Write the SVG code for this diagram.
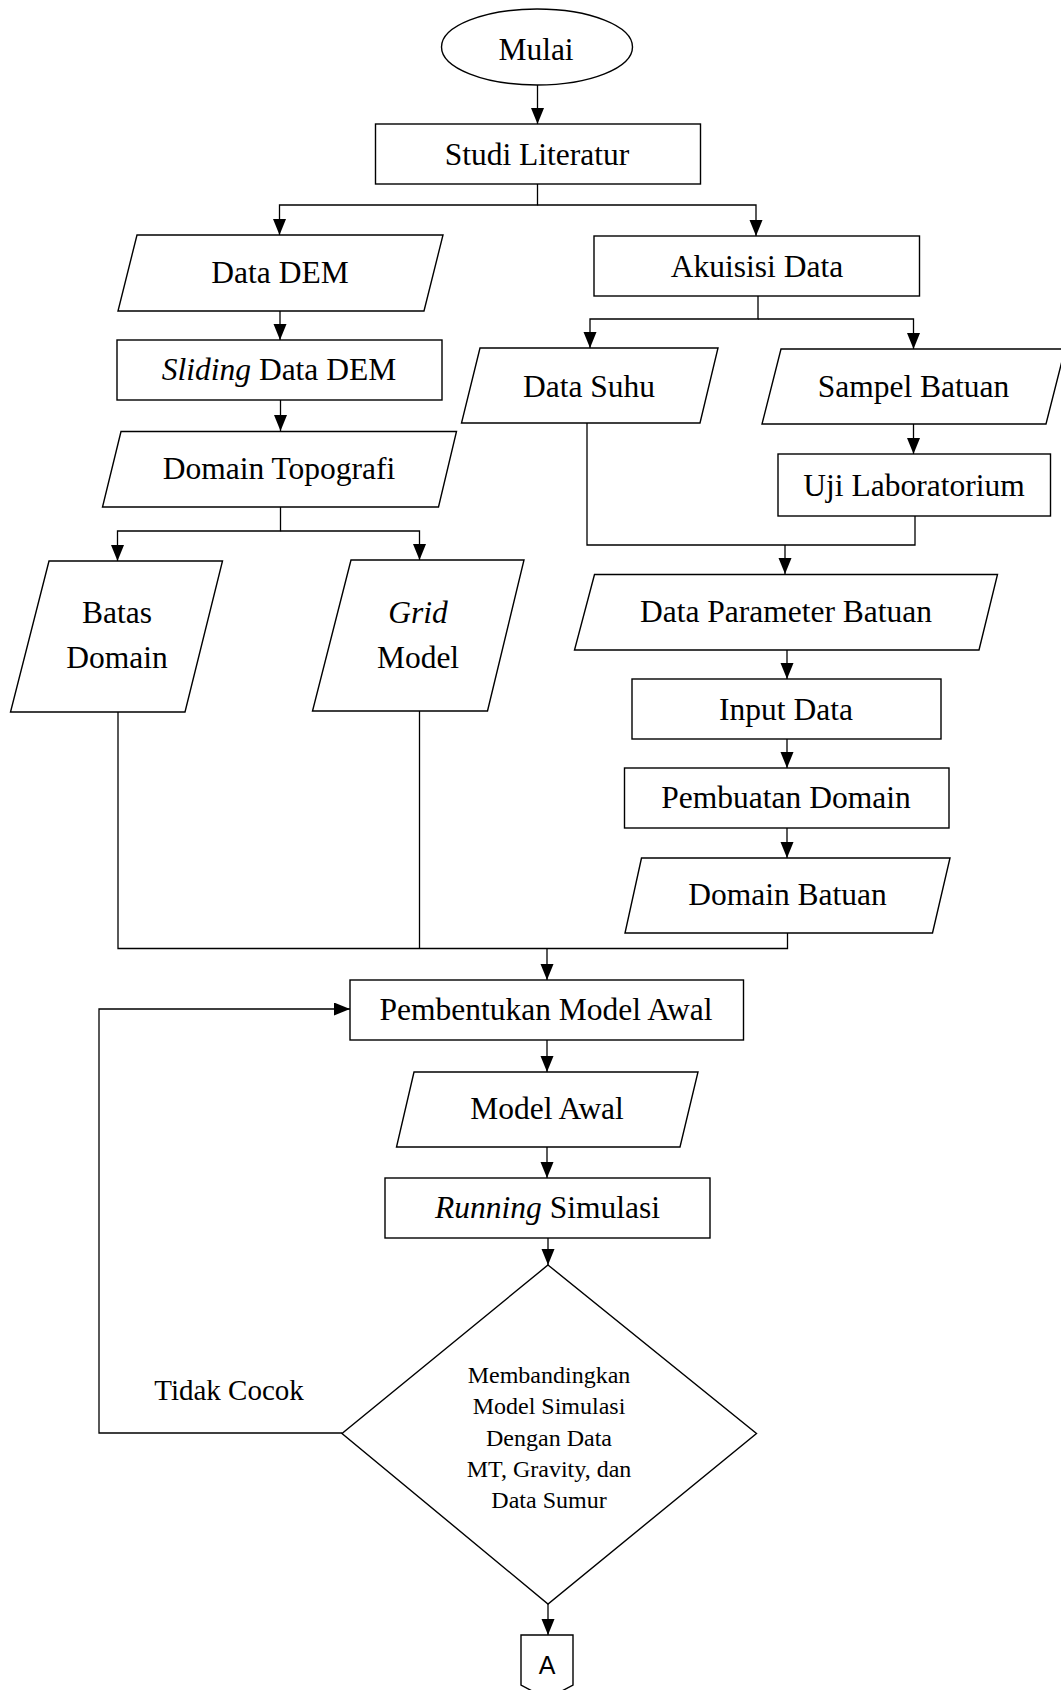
<svg xmlns="http://www.w3.org/2000/svg" width="1061" height="1690" viewBox="0 0 1061 1690">
<style>
.s{fill:#fff;stroke:#000;stroke-width:1.4}
.c{fill:none;stroke:#000;stroke-width:1.3}
.t{font-family:"Liberation Serif","Times New Roman",serif;font-size:31.5px;fill:#000;text-anchor:middle}
.i{font-style:italic}
.d{font-family:"Liberation Serif","Times New Roman",serif;font-size:24px;fill:#000;text-anchor:middle}
</style>
<defs>
<marker id="ah" markerUnits="userSpaceOnUse" markerWidth="16" markerHeight="14" refX="16" refY="6.5" orient="auto">
<path d="M0,0 L16,6.5 L0,13 z" fill="#000"/>
</marker>
</defs>
<rect width="1061" height="1690" fill="#fff"/>
<g id="connectors">
<path class="c" d="M537.5,85 V124" marker-end="url(#ah)"/>
<path class="c" d="M537.5,184 V205 H279.5 V235" marker-end="url(#ah)"/>
<path class="c" d="M537.5,205 H756 V236" marker-end="url(#ah)"/>
<path class="c" d="M280,311 V340" marker-end="url(#ah)"/>
<path class="c" d="M280.5,400 V431" marker-end="url(#ah)"/>
<path class="c" d="M280.5,507 V531 H117.5 V561" marker-end="url(#ah)"/>
<path class="c" d="M280.5,531 H419.5 V560" marker-end="url(#ah)"/>
<path class="c" d="M758,296 V319 H590 V348" marker-end="url(#ah)"/>
<path class="c" d="M758,319 H913.5 V349" marker-end="url(#ah)"/>
<path class="c" d="M913.5,424 V454" marker-end="url(#ah)"/>
<path class="c" d="M587,423 V545 H915 V516"/>
<path class="c" d="M785,545 V574" marker-end="url(#ah)"/>
<path class="c" d="M787,650 V679" marker-end="url(#ah)"/>
<path class="c" d="M787,739 V768" marker-end="url(#ah)"/>
<path class="c" d="M787,828 V858" marker-end="url(#ah)"/>
<path class="c" d="M118,712 V948.5 H787.5 V933"/>
<path class="c" d="M419.5,711 V948.5"/>
<path class="c" d="M547,948.5 V980" marker-end="url(#ah)"/>
<path class="c" d="M547,1040 V1072" marker-end="url(#ah)"/>
<path class="c" d="M547,1147 V1178" marker-end="url(#ah)"/>
<path class="c" d="M548,1238 V1265" marker-end="url(#ah)"/>
<path class="c" d="M342,1433 H99 V1009 H350" marker-end="url(#ah)"/>
<path class="c" d="M548,1604 V1635" marker-end="url(#ah)"/>
</g>
<g id="mulai">
<ellipse class="s" cx="537" cy="47" rx="95.5" ry="38"/>
<text class="t" x="536" y="60">Mulai</text>
</g>
<g id="studi-literatur">
<rect class="s" x="375.5" y="124" width="325" height="60"/>
<text class="t" x="537" y="164.5">Studi Literatur</text>
</g>
<g id="data-dem">
<polygon class="s" points="137,235 443,235 424,311 118,311"/>
<text class="t" x="280" y="283">Data DEM</text>
</g>
<g id="akuisisi-data">
<rect class="s" x="594" y="236" width="325.5" height="60"/>
<text class="t" x="757" y="277">Akuisisi Data</text>
</g>
<g id="sliding-data-dem">
<rect class="s" x="117" y="340" width="325" height="60"/>
<text class="t" x="279" y="380"><tspan class="i">Sliding</tspan> Data DEM</text>
</g>
<g id="data-suhu">
<polygon class="s" points="480,348 718,348 700,423 461.5,423"/>
<text class="t" x="589" y="397">Data Suhu</text>
</g>
<g id="sampel-batuan">
<polygon class="s" points="781,349 1065,349 1046,424 762,424"/>
<text class="t" x="913.5" y="397">Sampel Batuan</text>
</g>
<g id="domain-topografi">
<polygon class="s" points="121,431.5 456.5,431.5 438.5,507 102.5,507"/>
<text class="t" x="279" y="479">Domain Topografi</text>
</g>
<g id="uji-laboratorium">
<rect class="s" x="778" y="454" width="272.5" height="62"/>
<text class="t" x="914" y="496">Uji Laboratorium</text>
</g>
<g id="batas-domain">
<polygon class="s" points="49,561 222.5,561 185,712 10.5,712"/>
<text class="t" x="117" y="623">Batas</text>
<text class="t" x="117" y="668">Domain</text>
</g>
<g id="grid-model">
<polygon class="s" points="351,560 524,560 487.5,711 312.5,711"/>
<text class="t i" x="418" y="623">Grid</text>
<text class="t" x="418" y="668">Model</text>
</g>
<g id="data-parameter-batuan">
<polygon class="s" points="594.5,574.5 997.5,574.5 979,650 574.5,650"/>
<text class="t" x="786" y="622">Data Parameter Batuan</text>
</g>
<g id="input-data">
<rect class="s" x="632" y="679" width="309" height="60"/>
<text class="t" x="786" y="719.5">Input Data</text>
</g>
<g id="pembuatan-domain">
<rect class="s" x="624.5" y="768" width="324.5" height="60"/>
<text class="t" x="786" y="808">Pembuatan Domain</text>
</g>
<g id="domain-batuan">
<polygon class="s" points="641.5,858 950,858 932.5,933 625,933"/>
<text class="t" x="787.5" y="905">Domain Batuan</text>
</g>
<g id="pembentukan-model-awal">
<rect class="s" x="350" y="980" width="393.5" height="60"/>
<text class="t" x="546" y="1020">Pembentukan Model Awal</text>
</g>
<g id="model-awal">
<polygon class="s" points="414,1072 698,1072 680,1147 396.5,1147"/>
<text class="t" x="547" y="1119">Model Awal</text>
</g>
<g id="running-simulasi">
<rect class="s" x="385" y="1178" width="325" height="60"/>
<text class="t" x="547.5" y="1218"><tspan class="i">Running</tspan> Simulasi</text>
</g>
<g id="membandingkan">
<polygon class="s" points="548,1265 756.5,1433.5 548,1604 342,1433.5"/>
<text class="d" x="549" y="1383">Membandingkan</text>
<text class="d" x="549" y="1414">Model Simulasi</text>
<text class="d" x="549" y="1446">Dengan Data</text>
<text class="d" x="549" y="1477">MT, Gravity, dan</text>
<text class="d" x="549" y="1508">Data Sumur</text>
</g>
<g id="tidak-cocok">
<text class="t" x="229" y="1400" style="font-size:29px">Tidak Cocok</text>
</g>
<g id="connector-a">
<polygon class="s" points="521,1635 573,1635 573,1685 547,1699 521,1685"/>
<text x="547" y="1674" style="font-family:'Liberation Sans',Arial,sans-serif;font-size:25px;text-anchor:middle;fill:#000">A</text>
</g>
</svg>
